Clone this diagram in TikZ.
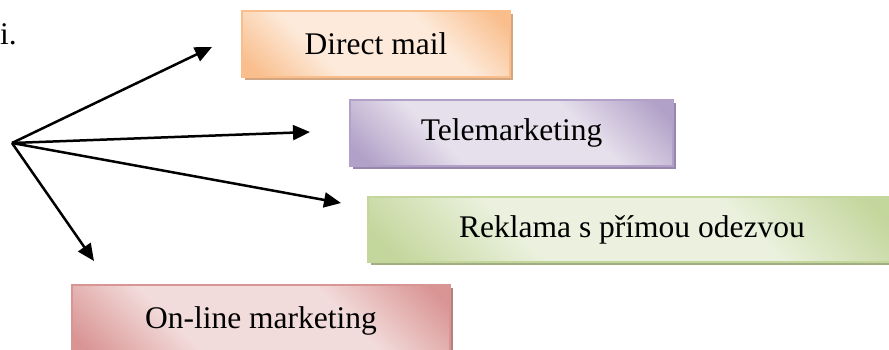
\documentclass[tikz,border=0pt]{standalone}
\usepackage{fontspec}
\setmainfont{Liberation Serif}
\usetikzlibrary{arrows.meta,shadows}
\definecolor{orD}{HTML}{F9BE8C}
\definecolor{orL}{HTML}{FDEADA}
\definecolor{orS}{HTML}{D2A680}
\definecolor{puD}{HTML}{B1A0C7}
\definecolor{puL}{HTML}{E6E0EC}
\definecolor{puS}{HTML}{9787AE}
\definecolor{grD}{HTML}{C3D69B}
\definecolor{grL}{HTML}{EBF1DE}
\definecolor{grS}{HTML}{A0AE82}
\definecolor{pkD}{HTML}{D99594}
\definecolor{pkL}{HTML}{F2DCDB}
\definecolor{pkS}{HTML}{B48080}
\pgfdeclarehorizontalshading{orshade}{100bp}{color(0bp)=(orD);color(18bp)=(orD);color(36bp)=(orL);color(64bp)=(orL);color(82bp)=(orD);color(100bp)=(orD)}
\pgfdeclarehorizontalshading{pushade}{100bp}{color(0bp)=(puD);color(18bp)=(puD);color(36bp)=(puL);color(64bp)=(puL);color(82bp)=(puD);color(100bp)=(puD)}
\pgfdeclarehorizontalshading{grshade}{100bp}{color(0bp)=(grD);color(18bp)=(grD);color(36bp)=(grL);color(64bp)=(grL);color(82bp)=(grD);color(100bp)=(grD)}
\pgfdeclarehorizontalshading{pkshade}{100bp}{color(0bp)=(pkD);color(18bp)=(pkD);color(36bp)=(pkL);color(64bp)=(pkL);color(82bp)=(pkD);color(100bp)=(pkD)}
\tikzset{
  box/.style={rectangle, inner sep=0pt, line width=1.2pt,
    font=\fontsize{31.5}{38}\selectfont, text=black, shading angle=45},
  shd/.style={drop shadow={shadow xshift=3pt, shadow yshift=-3pt, fill=#1, opacity=1}},
  arr/.style={line width=2.5pt, -{Triangle[length=17pt,width=15pt]}}
}
\begin{document}
\begin{tikzpicture}[x=1pt,y=-1pt]
\useasboundingbox (0,0) rectangle (889,349);
\node[anchor=base west, font=\fontsize{31.5}{38}\selectfont] (frag) at (-3.5,44) {i.};
\node[box, shd=orS, draw=orD, shading=orshade, minimum width=268pt, minimum height=66pt] (dm) at (376,44) {Direct mail};
\node[box, shd=puS, draw=puD, shading=pushade, minimum width=323pt, minimum height=66pt] (tm) at (511.5,133) {Telemarketing};
\node[box, shd=grS, draw=grD, shading=grshade, minimum width=528pt, minimum height=65pt] (rk) at (632,229.5) {Reklama s přímou odezvou};
\node[box, shd=pkS, draw=pkD, shading=pkshade, minimum width=378pt, minimum height=72pt] (ol) at (261,321) {On-line marketing};
\coordinate (o) at (12,143);
\coordinate (e1) at (212,47);
\coordinate (e2) at (310,132);
\coordinate (e3) at (341,203);
\coordinate (e4) at (94,261);
\draw[arr] (o) -- (e1);
\draw[arr] (o) -- (e2);
\draw[arr] (o) -- (e3);
\draw[arr] (o) -- (e4);
\end{tikzpicture}
\end{document}
